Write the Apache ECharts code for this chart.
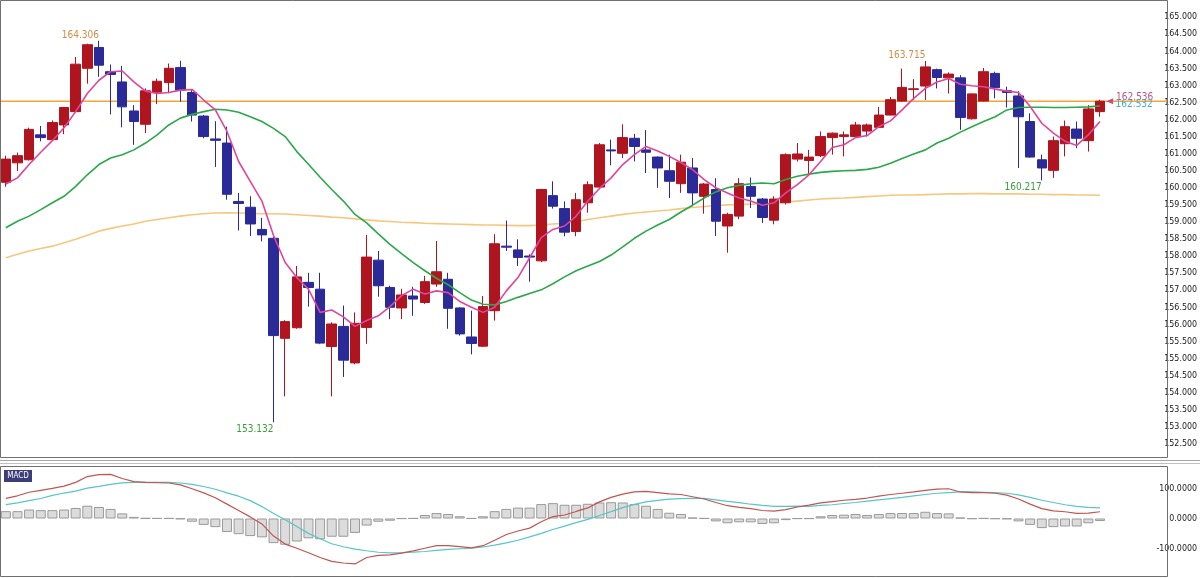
<!DOCTYPE html>
<html>
<head>
<meta charset="utf-8">
<script src="https://cdn.jsdelivr.net/npm/echarts@6.0.0/dist/echarts.min.js"></script>
<style>
html,body{margin:0;padding:0;background:#fff;}
#chart{width:1200px;height:578px;}
</style>
</head>
<body>
<div id="chart"></div>
<script>
// ---- data ----
const categories = Array.from({length: 100}, (_, i) => String(i + 1));

const opens = [160.16,160.73,160.82,161.55,161.41,161.84,162.23,163.50,164.11,163.40,
163.10,162.25,161.86,162.80,163.08,163.52,162.79,162.10,161.43,161.31,
159.60,159.43,158.78,158.52,155.59,155.90,157.23,157.03,155.35,155.94,
154.87,155.91,157.88,157.08,156.48,156.83,156.64,157.18,157.32,156.48,
155.63,155.36,156.40,158.29,158.18,158.00,157.86,159.77,159.39,158.72,
159.56,160.02,161.11,161.01,161.45,161.11,160.90,160.50,160.12,160.58,
159.75,159.95,158.88,159.17,160.04,159.67,159.05,159.56,160.84,160.80,
160.94,161.47,161.50,161.50,161.66,161.77,162.13,162.54,162.88,162.98,
163.46,163.22,163.22,162.02,162.54,163.35,162.84,162.69,161.94,160.82,
160.51,161.29,161.72,161.38,162.23];

const closes = [160.84,160.94,161.71,161.47,161.91,162.35,163.62,164.19,163.59,163.32,
162.37,161.94,162.84,163.12,163.50,162.86,162.13,161.50,161.39,159.81,
159.54,158.94,158.62,155.67,156.08,157.39,157.08,155.45,156.01,154.95,
156.03,157.97,157.13,156.50,156.86,156.74,157.25,157.54,156.47,155.72,
155.44,156.52,158.36,158.26,157.96,157.97,159.95,159.46,158.70,159.65,
160.09,161.26,161.08,161.47,161.21,161.04,160.58,160.19,160.75,159.85,
160.11,159.02,159.22,160.12,159.75,159.13,159.67,160.97,160.99,160.90,
161.50,161.60,161.55,161.84,161.84,162.13,162.58,162.94,162.90,163.54,
163.23,163.33,162.06,162.75,163.40,162.93,162.79,162.08,160.90,160.58,
161.38,161.79,161.45,162.31,162.536];

const lows = [160.03,160.49,160.80,161.36,161.38,161.57,162.21,163.05,163.25,162.15,
161.77,161.26,161.60,162.45,162.77,162.52,161.94,161.45,160.61,159.65,
158.75,158.59,158.43,153.132,153.89,155.87,156.52,155.42,153.89,154.46,
154.83,155.43,156.81,156.15,156.15,156.25,156.60,157.10,155.87,155.67,
155.12,155.33,156.11,158.15,157.71,157.25,157.82,159.39,158.58,158.58,
159.27,159.98,160.66,160.87,160.77,160.43,160.00,159.70,159.85,159.46,
159.24,158.59,158.10,159.08,159.41,158.97,158.93,159.51,160.77,160.38,
160.90,160.97,160.92,161.47,161.50,161.75,162.12,162.52,162.57,162.57,
162.91,162.76,161.70,162.00,162.53,162.62,162.35,160.58,160.88,160.217,
160.29,160.92,161.16,161.06,162.08];

const highs = [160.94,161.03,161.76,161.81,161.97,162.37,163.83,164.22,164.306,163.61,
163.57,162.42,162.91,163.20,163.64,163.72,162.86,162.13,161.95,161.79,
159.85,159.75,159.12,158.56,156.12,157.71,157.51,157.51,156.06,156.55,
156.35,158.62,158.15,157.13,157.04,157.10,157.42,158.44,157.51,156.50,
156.40,156.83,158.64,159.04,158.49,158.05,159.97,160.19,159.60,159.85,
160.19,161.31,161.41,161.86,161.58,161.69,160.92,160.97,160.97,160.87,
160.14,160.28,159.27,160.28,160.30,159.70,159.75,161.01,161.31,161.11,
161.65,161.62,161.65,161.93,161.88,162.37,162.66,163.49,163.18,163.715,
163.49,163.38,163.30,162.76,163.51,163.40,162.96,162.83,162.18,160.97,
161.50,161.97,161.94,162.42,162.58];

const maShort = [160.11,160.29,160.68,161.04,161.38,161.76,162.23,162.76,163.15,163.40,
163.42,163.10,162.83,162.76,162.79,162.86,162.88,162.57,162.28,161.65,
160.77,160.19,159.61,158.60,157.81,157.37,157.03,156.35,156.42,156.22,
155.94,156.11,156.25,156.52,156.84,157.03,156.89,156.98,156.93,156.67,
156.50,156.35,156.50,156.98,157.37,157.95,158.54,158.78,158.88,159.17,
159.61,159.98,160.29,160.68,160.97,161.21,161.08,160.92,160.74,160.53,
160.24,160.00,159.85,159.70,159.61,159.49,159.56,159.85,160.09,160.38,
160.77,161.18,161.26,161.47,161.53,161.79,161.96,162.28,162.62,162.91,
163.10,163.20,163.03,162.99,162.96,162.89,162.83,162.79,162.38,161.89,
161.60,161.36,161.24,161.55,161.94];

const maMid = [158.83,159.02,159.17,159.36,159.56,159.75,160.04,160.38,160.68,160.87,
160.97,161.11,161.31,161.55,161.84,162.04,162.15,162.23,162.30,162.28,
162.21,162.08,161.94,161.74,161.50,161.06,160.69,160.31,159.95,159.61,
159.22,158.97,158.65,158.34,158.07,157.81,157.57,157.35,157.16,156.93,
156.71,156.59,156.57,156.67,156.79,156.90,157.01,157.19,157.39,157.57,
157.71,157.84,158.03,158.27,158.52,158.73,158.91,159.07,159.29,159.49,
159.70,159.88,160.00,160.07,160.12,160.14,160.12,160.24,160.34,160.40,
160.45,160.48,160.50,160.51,160.54,160.60,160.72,160.86,160.99,161.11,
161.31,161.45,161.63,161.79,161.94,162.08,162.28,162.35,162.36,162.36,
162.35,162.35,162.36,162.37,162.40];

const maLong = [157.95,158.05,158.15,158.22,158.29,158.39,158.49,158.61,158.73,158.81,
158.88,158.94,159.02,159.07,159.12,159.17,159.21,159.24,159.26,159.27,
159.26,159.25,159.24,159.24,159.23,159.21,159.19,159.17,159.14,159.12,
159.09,159.06,159.03,159.01,158.99,158.98,158.96,158.95,158.94,158.93,
158.92,158.91,158.91,158.90,158.89,158.89,158.91,158.94,158.96,159.01,
159.07,159.12,159.17,159.22,159.26,159.29,159.32,159.35,159.39,159.42,
159.45,159.48,159.50,159.51,159.52,159.53,159.56,159.58,159.61,159.64,
159.67,159.69,159.70,159.72,159.74,159.76,159.78,159.79,159.79,159.80,
159.81,159.82,159.82,159.83,159.83,159.82,159.82,159.82,159.81,159.81,
159.80,159.80,159.79,159.79,159.78];

const macdLine = [67.7,76.3,88.2,94.6,101.1,108.6,121.5,140.9,147.3,148.4,
134.4,123.7,121.5,120.4,119.4,112.9,100.0,86.0,69.9,48.4,
26.9,5.4,-18.3,-59.0,-86.0,-100.0,-115.0,-131.2,-144.1,-149.5,
-152.7,-131.2,-123.7,-122.0,-116.1,-108.6,-100.0,-91.4,-91.4,-94.6,
-98.9,-91.4,-73.1,-53.8,-41.9,-32.3,-10.8,6.5,11.8,23.7,
35.5,55.9,71.0,81.7,89.2,91.4,87.1,82.8,80.6,73.1,
65.6,53.8,43.0,37.6,33.3,26.9,24.7,30.1,38.7,45.2,
52.7,57.0,61.3,64.5,68.8,75.3,80.6,84.9,89.2,94.6,
98.9,100.0,89.2,87.1,87.1,84.9,78.5,65.6,48.4,33.3,
25.8,22.6,17.2,18.3,22.6];

const signalLine = [46.8,52.3,59.8,67.3,77.8,85.6,92.2,102.0,108.2,115.0,
119.5,121.5,121.5,121.5,121.5,119.4,115.0,107.5,98.4,86.0,
75.0,60.0,40.0,17.0,-4.0,-27.0,-50.0,-68.0,-85.0,-95.0,
-103.0,-108.5,-113.5,-115.5,-114.5,-113.3,-111.0,-107.2,-104.0,-101.6,
-100.0,-95.7,-89.7,-82.0,-73.0,-62.0,-49.8,-37.0,-25.4,-14.1,
-2.8,9.9,23.1,36.5,47.7,55.6,61.0,64.8,66.8,67.7,
67.7,62.8,57.8,53.3,48.0,43.8,40.9,40.9,41.9,40.9,
44.1,46.2,50.5,53.8,58.1,62.4,66.7,71.0,76.3,80.6,
84.9,87.1,89.2,89.2,88.2,87.1,84.9,79.6,71.0,61.3,
53.8,46.2,40.9,37.6,35.5];

const histogram = [24.7,24.7,30.1,28.0,28.0,30.1,35.5,43.0,38.7,32.3,
17.2,5.4,1.0,0.5,0.5,-2.0,-10.8,-21.5,-29.0,-45.2,
-52.7,-59.1,-63.4,-82.8,-88.2,-77.4,-66.7,-69.9,-61.3,-61.3,
-48.4,-23.7,-10.8,-7.5,-0.5,0.5,11.8,18.3,15.0,7.5,
0.5,7.5,24.7,32.3,36.6,36.6,48.4,51.6,46.2,46.2,
49.5,53.8,54.8,53.8,48.4,43.0,32.3,19.4,15.0,3.0,
0.5,-9.7,-16.1,-12.9,-12.9,-18.3,-16.1,-5.4,-0.5,-0.5,
7.5,11.8,12.9,15.0,11.8,15.0,18.3,18.3,18.3,22.6,
18.3,17.2,3.0,-1.0,0.5,-1.0,-2.0,-9.7,-21.5,-32.3,
-29.0,-26.9,-26.9,-16.1,-8.6];

const extremes = [
  {idx: 8,  value: 164.306, kind: 'high'},
  {idx: 79, value: 163.715, kind: 'high'},
  {idx: 23, value: 153.132, kind: 'low'},
  {idx: 89, value: 160.217, kind: 'low'}
];
const lastPrice = 162.536;
const bidPrice = 162.532;
const priceLabelIdx = 95;

const mainTicks = {min: 152, max: 165.5, interval: 0.5};
const macdTicks = {min: -200, max: 200, interval: 100};

// ---- build ----
const NARROW = "'Liberation Sans Narrow','DejaVu Sans Condensed','Arial Narrow',sans-serif";
const candleData = opens.map((o, i) => [o, closes[i], lows[i], highs[i]]);
const PRICE_LINE = '#f2a636';

const markData = extremes.map(e => ({
  coord: [categories[e.idx], e.value],
  value: e.value,
  symbol: 'circle', symbolSize: 1,
  itemStyle: {color: 'rgba(0,0,0,0)'},
  label: {
    show: true,
    formatter: e.value.toFixed(3),
    position: e.kind === 'high' ? 'top' : 'bottom',
    align: 'right',
    distance: e.kind === 'high' ? 0 : 2,
    color: e.kind === 'high' ? '#d38d46' : '#3c9e3c',
    fontSize: 10, fontFamily: NARROW
  }
}));
markData.push({
  coord: [categories[priceLabelIdx], lastPrice],
  value: lastPrice,
  symbol: 'triangle', symbolSize: [6, 7], symbolRotate: 90, symbolOffset: [-2, 0],
  itemStyle: {color: '#c4508a'},
  label: {show: true, formatter: lastPrice.toFixed(3), position: 'right', distance: 3,
          offset: [0, -3.5], color: '#c4508a', fontSize: 10, fontFamily: NARROW}
});
markData.push({
  coord: [categories[priceLabelIdx], bidPrice],
  value: bidPrice,
  symbol: 'triangle', symbolSize: [6, 7], symbolOffset: [-2, 0],
  itemStyle: {color: 'rgba(0,0,0,0)'},
  label: {show: true, formatter: bidPrice.toFixed(3), position: 'right', distance: 3,
          offset: [0, 3.5], color: '#48acd0', fontSize: 10, fontFamily: NARROW}
});

const chart = echarts.init(document.getElementById('chart'), null, {renderer: 'canvas'});
const W = 1167;
const axisLabelStyle = {showMinLabel: false, showMaxLabel: false, margin: 33, align: 'right',
  color: '#222', fontSize: 8.8, fontFamily: NARROW};
const staticGraphics = [
  {type: 'rect', shape: {x: 0.5, y: 0.5, width: W, height: 457}, style: {fill: 'none', stroke: '#707070', lineWidth: 1}, z: 10, silent: true},
  {type: 'line', shape: {x1: 0, y1: 460.5, x2: 1200, y2: 460.5}, style: {stroke: '#a8a8a8', lineWidth: 1}, z: 10, silent: true},
  {type: 'line', shape: {x1: 0, y1: 463.5, x2: 1200, y2: 463.5}, style: {stroke: '#c0c0c0', lineWidth: 1}, z: 10, silent: true},
  {type: 'rect', shape: {x: 0.5, y: 466.5, width: W, height: 110}, style: {fill: 'none', stroke: '#707070', lineWidth: 1}, z: 10, silent: true},
  {type: 'rect', shape: {x: 4, y: 470, width: 28, height: 12}, style: {fill: '#3d3d7a'}, z: 11, silent: true},
  {type: 'text', x: 18, y: 476, style: {text: 'MACD', fill: '#ffffff', font: "8px " + NARROW, align: 'center', verticalAlign: 'middle'}, z: 12, silent: true}
];
chart.setOption({
  animation: false,
  backgroundColor: '#ffffff',
  grid: [
    {left: 0, top: -2.15, width: W, height: 463.05},
    {left: 0, top: 459, width: W, height: 124}
  ],
  xAxis: [
    {type: 'category', data: categories, gridIndex: 0, boundaryGap: true, show: false},
    {type: 'category', data: categories, gridIndex: 1, boundaryGap: true, show: false}
  ],
  yAxis: [
    {gridIndex: 0, position: 'right', min: mainTicks.min, max: mainTicks.max, interval: mainTicks.interval,
     splitLine: {show: false}, axisLine: {show: false}, axisTick: {show: false},
     axisLabel: Object.assign({formatter: v => v.toFixed(3)}, axisLabelStyle)},
    {gridIndex: 1, position: 'right', min: macdTicks.min, max: macdTicks.max, interval: macdTicks.interval,
     splitLine: {show: false}, axisLine: {show: false}, axisTick: {show: false},
     axisLabel: Object.assign({formatter: v => v.toFixed(4)}, axisLabelStyle)}
  ],
  series: [
    {
      type: 'candlestick', xAxisIndex: 0, yAxisIndex: 0, data: candleData, barWidth: 10,
      itemStyle: {color: '#b0141e', color0: '#2a2a98', borderColor: '#b0141e', borderColor0: '#2a2a98', borderWidth: 1},
      markPoint: {data: markData, animation: false},
      z: 3
    },
    {type: 'line', name: 'MA long', data: maLong, xAxisIndex: 0, yAxisIndex: 0, symbol: 'none',
     lineStyle: {color: '#f6c77e', width: 1.6}, z: 2},
    {type: 'line', name: 'MA mid', data: maMid, xAxisIndex: 0, yAxisIndex: 0, symbol: 'none',
     lineStyle: {color: '#2aa84a', width: 1.6}, z: 4},
    {type: 'line', name: 'MA short', data: maShort, xAxisIndex: 0, yAxisIndex: 0, symbol: 'none',
     lineStyle: {color: '#e0459c', width: 1.6}, z: 5},
    {type: 'bar', name: 'Hist', data: histogram, xAxisIndex: 1, yAxisIndex: 1, barWidth: 10,
     itemStyle: {color: '#dcdcdc', borderColor: '#9a9a9a', borderWidth: 1}, z: 2},
    {type: 'line', name: 'Signal', data: signalLine, xAxisIndex: 1, yAxisIndex: 1, symbol: 'none',
     lineStyle: {color: '#56c6c8', width: 1.2}, z: 3},
    {type: 'line', name: 'MACD', data: macdLine, xAxisIndex: 1, yAxisIndex: 1, symbol: 'none',
     lineStyle: {color: '#c25552', width: 1.2}, z: 4}
  ],
  graphic: staticGraphics
});

// current-price line, positioned through the library's own y scale
const py = chart.convertToPixel({yAxisIndex: 0}, lastPrice);
chart.setOption({
  graphic: staticGraphics.concat([
    {type: 'line', shape: {x1: 1, y1: py, x2: W, y2: py},
     style: {stroke: PRICE_LINE, lineWidth: 1.4}, z: 1, silent: true}
  ])
});
</script>
</body>
</html>
